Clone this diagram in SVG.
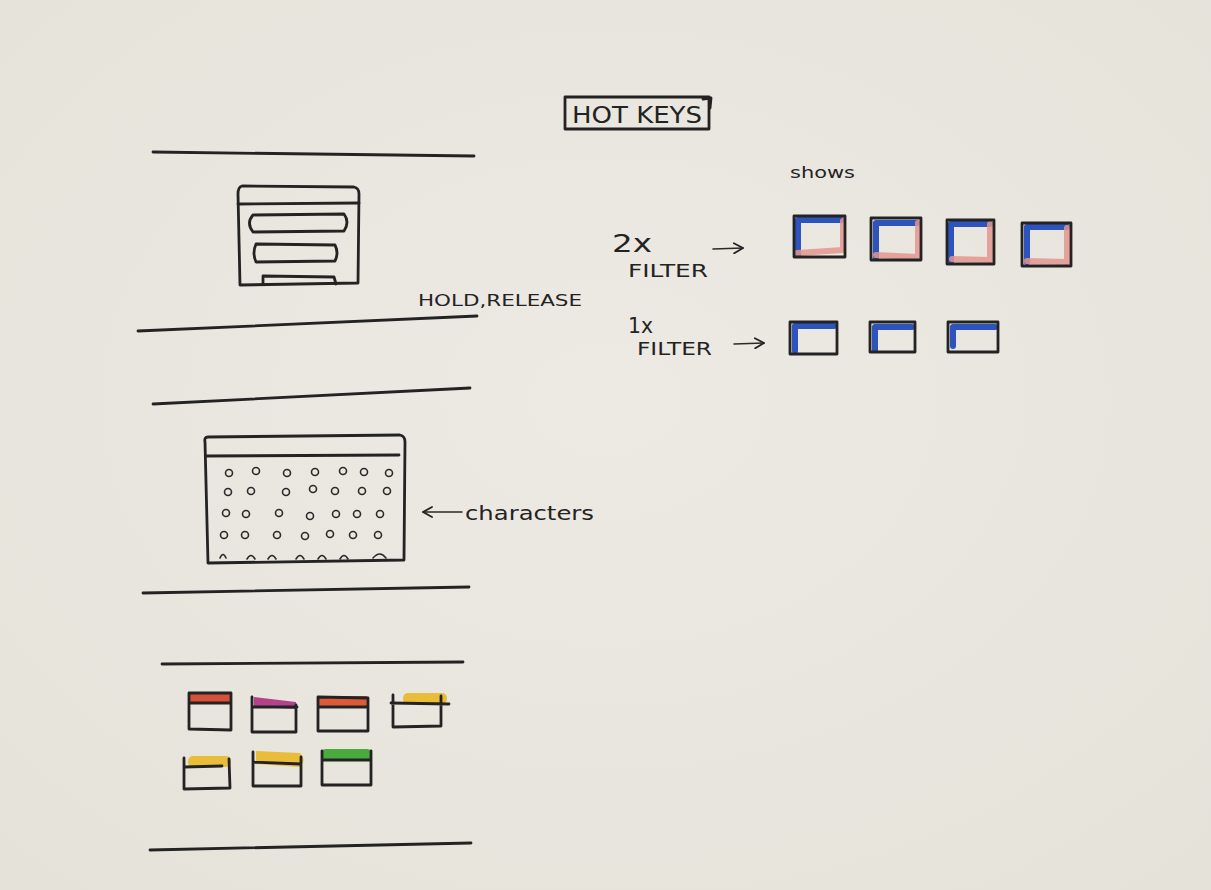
<svg xmlns="http://www.w3.org/2000/svg" width="1211" height="890" viewBox="0 0 1211 890">
<defs>
<radialGradient id="paper" cx="50%" cy="45%" r="75%">
<stop offset="0" stop-color="#edeae3"/>
<stop offset="1" stop-color="#e5e2da"/>
</radialGradient>
<marker id="arr" viewBox="0 0 12 12" refX="10" refY="6" markerWidth="12" markerHeight="12" markerUnits="userSpaceOnUse" orient="auto">
<path d="M1,1 L10,6 L1,11" fill="none" stroke="#222" stroke-width="1.8" stroke-linecap="round" stroke-linejoin="round"/>
</marker>
</defs>
<style>
.ink{fill:none;stroke:#232323;stroke-width:2.8;stroke-linecap:round;stroke-linejoin:round}
.thin{fill:none;stroke:#2a2a2a;stroke-width:1.6;stroke-linecap:round}
.txt{font-family:"DejaVu Sans","Liberation Sans",sans-serif;fill:#232323}
.blue{fill:none;stroke:#2c54bc;stroke-width:6;stroke-linecap:round;stroke-linejoin:round}
.pink{fill:none;stroke:#e3958e;stroke-width:6;stroke-linecap:round;stroke-linejoin:round;opacity:0.85}
</style>
<rect width="1211" height="890" fill="url(#paper)"/>

<g id="title">
<rect x="565" y="97" width="144" height="32" class="ink"/>
<path d="M703,99 L711,98 L710,108" class="ink"/>
<text x="637" y="123" class="txt" font-size="23" text-anchor="middle" textLength="130" lengthAdjust="spacingAndGlyphs">HOT KEYS</text>
</g>

<g id="separators">
<path d="M153,152 L474,156" class="ink"/>
<path d="M138,331 L477,316" class="ink"/>
<path d="M153,404 L470,388" class="ink"/>
<path d="M143,593 L469,587" class="ink"/>
<path d="M162,664 L463,662" class="ink"/>
<path d="M150,850 L471,843" class="ink"/>
</g>

<g id="window1">
<path d="M242,186 L354,187 Q359,188 359,194 L358,283 L240,285 L238,194 Q238,187 242,186 Z" class="ink"/>
<path d="M238,204 L359,203" class="ink"/>
<path d="M253,215 L344,214 Q350,222 344,231 L253,232 Q246,223 253,215 Z" class="ink"/>
<path d="M256,244 L335,245 Q339,253 335,261 L256,262 Q252,253 256,244 Z" class="ink"/>
<path d="M263,284 L263,276 L334,277 L336,284" class="ink"/>
</g>

<g id="hold-release">
<text x="418" y="306" class="txt" font-size="16" textLength="164" lengthAdjust="spacingAndGlyphs">HOLD,RELEASE</text>
</g>

<g id="shows">
<text x="790" y="178" class="txt" font-size="15" textLength="65" lengthAdjust="spacingAndGlyphs">shows</text>
</g>

<g id="filter2x">
<text x="612" y="252" class="txt" font-size="24" textLength="40" lengthAdjust="spacingAndGlyphs">2x</text>
<text x="628" y="277" class="txt" font-size="17" textLength="80" lengthAdjust="spacingAndGlyphs">FILTER</text>
</g>

<g id="filter1x">
<text x="628" y="333" class="txt" font-size="21" textLength="25" lengthAdjust="spacingAndGlyphs">1x</text>
<text x="637" y="355" class="txt" font-size="17" textLength="75" lengthAdjust="spacingAndGlyphs">FILTER</text>
</g>

<g id="row2x">
<g id="b2x1">
<path d="M798,255 L798,220 L841,220" class="blue"/>
<path d="M797,253 L843,250 L843,221" class="pink"/>
<rect x="794" y="216" width="51" height="41" class="ink"/>
</g>
<g id="b2x2">
<path d="M876,257 L876,223 L917,223" class="blue"/>
<path d="M876,255 L918,257 L918,223" class="pink"/>
<rect x="871" y="218" width="50" height="42" class="ink"/>
</g>
<g id="b2x3">
<path d="M951,261 L951,224 L990,224" class="blue"/>
<path d="M952,259 L990,260 L990,224" class="pink"/>
<rect x="947" y="220" width="47" height="44" class="ink"/>
</g>
<g id="b2x4">
<path d="M1027,262 L1027,227 L1067,227" class="blue"/>
<path d="M1027,261 L1067,262 L1067,228" class="pink"/>
<rect x="1022" y="223" width="49" height="43" class="ink"/>
</g>
</g>

<g id="row1x">
<g id="b1x1">
<path d="M795,351 L795,326 L834,326" class="blue"/>
<rect x="790" y="322" width="47" height="32" class="ink"/>
</g>
<g id="b1x2">
<path d="M875,350 L875,327 L912,327" class="blue"/>
<rect x="870" y="322" width="45" height="30" class="ink"/>
</g>
<g id="b1x3">
<path d="M953,346 L953,327 L995,327" class="blue"/>
<rect x="948" y="322" width="50" height="30" class="ink"/>
</g>
</g>

<g id="connectors">
<path d="M713,249 L743,248" class="thin" marker-end="url(#arr)"/>
<path d="M734,344 L764,343" class="thin" marker-end="url(#arr)"/>
<path d="M462,512 L423,512" class="thin" marker-end="url(#arr)"/>
</g>

<g id="window2">
<path d="M208,437 L400,435 Q405,436 405,442 L404,560 L208,563 L205,442 Q204,437 208,437 Z" class="ink"/>
<path d="M206,456 L399,455" class="ink"/>
<g class="thin" stroke-width="1.5">
<circle cx="229" cy="473" r="3.5"/><circle cx="256" cy="471" r="3.5"/><circle cx="287" cy="473" r="3.5"/><circle cx="315" cy="472" r="3.5"/><circle cx="343" cy="471" r="3.5"/><circle cx="364" cy="472" r="3.5"/><circle cx="389" cy="473" r="3.5"/>
<circle cx="228" cy="492" r="3.5"/><circle cx="251" cy="491" r="3.5"/><circle cx="286" cy="492" r="3.5"/><circle cx="313" cy="489" r="3.5"/><circle cx="335" cy="491" r="3.5"/><circle cx="362" cy="491" r="3.5"/><circle cx="387" cy="491" r="3.5"/>
<circle cx="226" cy="513" r="3.5"/><circle cx="246" cy="514" r="3.5"/><circle cx="279" cy="513" r="3.5"/><circle cx="310" cy="516" r="3.5"/><circle cx="336" cy="514" r="3.5"/><circle cx="357" cy="514" r="3.5"/><circle cx="380" cy="514" r="3.5"/>
<circle cx="224" cy="535" r="3.5"/><circle cx="245" cy="535" r="3.5"/><circle cx="277" cy="535" r="3.5"/><circle cx="305" cy="536" r="3.5"/><circle cx="330" cy="534" r="3.5"/><circle cx="353" cy="535" r="3.5"/><circle cx="378" cy="535" r="3.5"/>
<path d="M220,558 Q223,551 226,558"/><path d="M247,559 Q251,552 255,559"/><path d="M268,559 Q272,552 276,559"/><path d="M296,559 Q300,552 304,559"/><path d="M318,559 Q322,552 326,559"/><path d="M340,559 Q344,552 348,559"/><path d="M373,558 Q380,550 386,558"/>
</g>
</g>

<g id="characters">
<text x="465" y="520" class="txt" font-size="19" textLength="129" lengthAdjust="spacingAndGlyphs">characters</text>
</g>

<g id="tabs">
<g id="t1"><rect x="189" y="692" width="42" height="11" rx="2" fill="#d8503a"/><path d="M189,693 L231,693 L231,730 L189,729 Z M189,703 L231,703" class="ink" stroke-width="2"/></g>
<g id="t2"><path d="M254,697 L296,702 L296,709 L254,707 Z" fill="#b4428a"/><path d="M252,697 L252,732 L296,732 L296,705 M252,707 L297,707" class="ink" stroke-width="2"/></g>
<g id="t3"><rect x="318" y="696" width="50" height="11" rx="2" fill="#dc5a38"/><path d="M318,697 L368,698 L368,731 L318,731 Z M318,707 L368,707" class="ink" stroke-width="2"/></g>
<g id="t4"><rect x="403" y="693" width="44" height="11" rx="5" fill="#e9bc3a"/><path d="M393,695 L393,727 L441,726 L441,696 M391,703 L449,704" class="ink" stroke-width="2"/></g>
<g id="t5"><rect x="188" y="756" width="43" height="11" rx="5" fill="#e9bc3a"/><path d="M184,758 L184,789 L230,788 L229,759 M184,767 L222,766" class="ink" stroke-width="2"/></g>
<g id="t6"><path d="M256,751 L300,753 Q307,760 300,767 L256,764 Z" fill="#e9bc3a"/><path d="M253,752 L253,786 L301,786 L301,757 M253,762 L301,764" class="ink" stroke-width="2"/></g>
<g id="t7"><rect x="322" y="749" width="49" height="12" rx="4" fill="#4aaa3e"/><path d="M322,751 L322,785 L371,785 L371,751 M322,760 L371,760" class="ink" stroke-width="2"/></g>
</g>
</svg>
